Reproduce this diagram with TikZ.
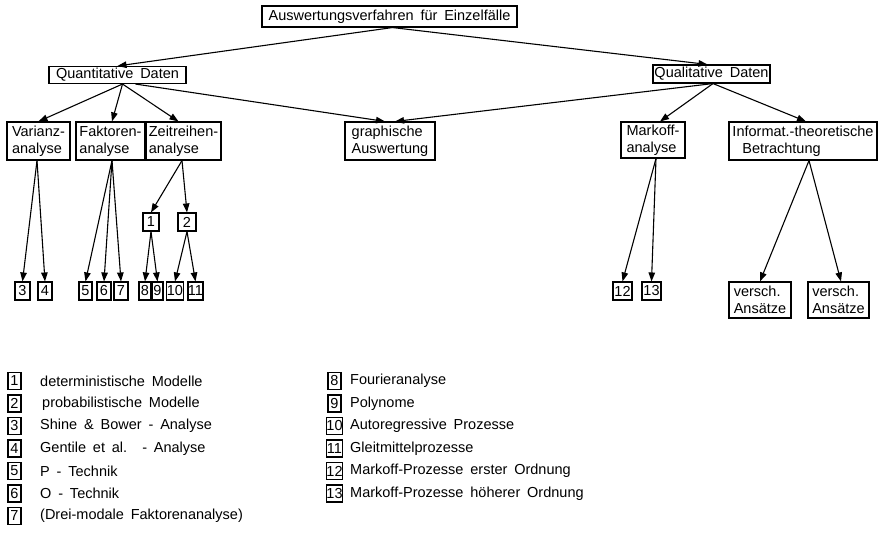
\documentclass[tikz,border=0pt]{standalone}
\usepackage{fontspec}
\setmainfont{Liberation Sans}[WordSpace=1.7]
\usetikzlibrary{arrows.meta}
\begin{document}
\begin{tikzpicture}[x=1pt,y=-1pt,
  every node/.style={font=\fontsize{14.5}{17}\selectfont},
  bx/.style={draw, line width=1.1pt, inner sep=0pt, align=left},
  nb/.style={draw, line width=1.1pt, inner sep=0pt, minimum height=18pt},
  lb/.style={draw, line width=1.1pt, inner sep=0pt, minimum height=17pt},
  lt/.style={anchor=west, inner sep=0pt},
  arr/.style={-{Triangle[length=9pt,width=6.5pt]}, line width=1.1pt}]
\useasboundingbox (0,0) rectangle (883,533);

% main boxes
\node[bx, minimum width=255pt, minimum height=21pt, align=center] (top) at (389.5,16.5) {Auswertungsverfahren für Einzelfälle};
\node[bx, minimum width=137pt, minimum height=17pt, align=center] (quant) at (117.5,75) {Quantitative Daten};
\node[bx, minimum width=117pt, minimum height=18pt, align=center] (qual) at (711.5,74) {Qualitative Daten};

\node[bx, minimum width=63pt, minimum height=38pt] (var) at (38.5,141) {Varianz-\\analyse};
\node[bx, minimum width=69pt, minimum height=38pt] (fak) at (110.5,141) {Faktoren-\\analyse};
\node[bx, minimum width=75pt, minimum height=38pt] (zeit) at (183.5,141) {Zeitreihen-\\analyse};
\node[bx, minimum width=90pt, minimum height=38pt] (graph) at (390,141) {graphische\\Auswertung};
\node[bx, minimum width=64pt, minimum height=36pt] (mark) at (653,140) {Markoff-\\analyse};
\node[bx, minimum width=148pt, minimum height=38pt] (info) at (803,141) {Informat.-theoretische\\\hspace*{10pt}Betrachtung};

% number boxes
\node[nb, minimum width=16pt] (n1) at (151,222) {1};
\node[nb, minimum width=18pt] (n2) at (187,222) {2};
\node[nb, minimum width=15pt] (n3) at (22.5,291) {3};
\node[nb, minimum width=14pt] (n4) at (45,291) {4};
\node[nb, minimum width=13pt] (n5) at (85.5,291) {5};
\node[nb, minimum width=14pt] (n6) at (104,291) {6};
\node[nb, minimum width=14pt] (n7) at (121,291) {7};
\node[nb, minimum width=12pt] (n8) at (145,291) {8};
\node[nb, minimum width=11pt] (n9) at (157.5,291) {9};
\node[nb, minimum width=16pt] (n10) at (175,291) {10};
\node[nb, minimum width=15pt] (n11) at (195.5,291) {11};
\node[nb, minimum width=19pt] (n12) at (622.5,291) {12};
\node[nb, minimum width=19pt] (n13) at (651.5,291) {13};
\node[bx, minimum width=62pt, minimum height=36pt] (vs1) at (760,300) {versch.\\Ansätze};
\node[bx, minimum width=61pt, minimum height=36pt] (vs2) at (838.5,300) {versch.\\Ansätze};

% connectors
\draw[arr] ([xshift=3pt]top.south) -- (quant.north);
\draw[arr] ([xshift=3pt]top.south) -- ([xshift=-4pt]qual.north);
\draw[arr] ([xshift=5pt]quant.south) -- (var.north);
\draw[arr] ([xshift=5pt]quant.south) -- ([xshift=1.5pt]fak.north);
\draw[arr] ([xshift=5pt]quant.south) -- ([xshift=-5pt]zeit.north);
\draw[arr] ([xshift=18pt]quant.south) -- ([xshift=-5pt]graph.north);
\draw[arr] ([xshift=1.5pt]qual.south) -- ([xshift=5pt]graph.north);
\draw[arr] ([xshift=1.5pt]qual.south) -- ([xshift=7pt]mark.north);
\draw[arr] ([xshift=1.5pt]qual.south) -- ([xshift=3pt]info.north);

\draw[arr] ([xshift=-1.5pt]var.south) -- (n3.north);
\draw[arr] ([xshift=-1.5pt]var.south) -- (n4.north);
\draw[arr] ([xshift=1.5pt]fak.south) -- (n5.north);
\draw[arr] ([xshift=1.5pt]fak.south) -- (n6.north);
\draw[arr] ([xshift=1.5pt]fak.south) -- (n7.north);
\draw[arr] ([xshift=-1.5pt]zeit.south) -- (n1.north);
\draw[arr] ([xshift=-1.5pt]zeit.south) -- (n2.north);
\draw[arr] (n1.south) -- (n8.north);
\draw[arr] (n1.south) -- (n9.north);
\draw[arr] (n2.south) -- (n10.north);
\draw[arr] (n2.south) -- (n11.north);
\draw[arr] ([xshift=3pt]mark.south) -- (n12.north);
\draw[arr] ([xshift=3pt]mark.south) -- (n13.north);
\draw[arr] ([xshift=6pt]info.south) -- (vs1.north);
\draw[arr] ([xshift=6pt]info.south) -- ([xshift=2.5pt]vs2.north);

% legend left
\node[lb, minimum width=13pt] (l1) at (14.5,381) {1};
\node[lt] (t1) at (40,381) {deterministische Modelle};
\node[lb, minimum width=13pt] (l2) at (14.5,403.5) {2};
\node[lt] (t2) at (42,403.5) {probabilistische Modelle};
\node[lb, minimum width=13pt] (l3) at (14.5,426) {3};
\node[lt] (t3) at (40,426) {Shine \& Bower - Analyse};
\node[lb, minimum width=13pt] (l4) at (14.5,448.5) {4};
\node[lt] (t4) at (40,448.5) {Gentile et al. \ - Analyse};
\node[lb, minimum width=13pt] (l5) at (14.5,471) {5};
\node[lt] (t5) at (40,471) {P - Technik};
\node[lb, minimum width=13pt] (l6) at (14.5,493.5) {6};
\node[lt] (t6) at (40,493.5) {O - Technik};
\node[lb, minimum width=13pt] (l7) at (14.5,516) {7};
\node[lt] (t7) at (40,516) {(Drei-modale Faktorenanalyse)};

% legend right
\node[lb, minimum width=13pt] (l8) at (334.5,381) {8};
\node[lt] (t8) at (350,381) {Fourieranalyse};
\node[lb, minimum width=13pt] (l9) at (334.5,403.5) {9};
\node[lt] (t9) at (350,403.5) {Polynome};
\node[lb, minimum width=16pt] (l10) at (334.5,426) {10};
\node[lt] (t10) at (350,426) {Autoregressive Prozesse};
\node[lb, minimum width=16pt] (l11) at (334.5,448.5) {11};
\node[lt] (t11) at (350,448.5) {Gleitmittelprozesse};
\node[lb, minimum width=16pt] (l12) at (334.5,471) {12};
\node[lt] (t12) at (350,471) {Markoff-Prozesse erster Ordnung};
\node[lb, minimum width=16pt] (l13) at (334.5,493.5) {13};
\node[lt] (t13) at (350,493.5) {Markoff-Prozesse höherer Ordnung};
\end{tikzpicture}
\end{document}
